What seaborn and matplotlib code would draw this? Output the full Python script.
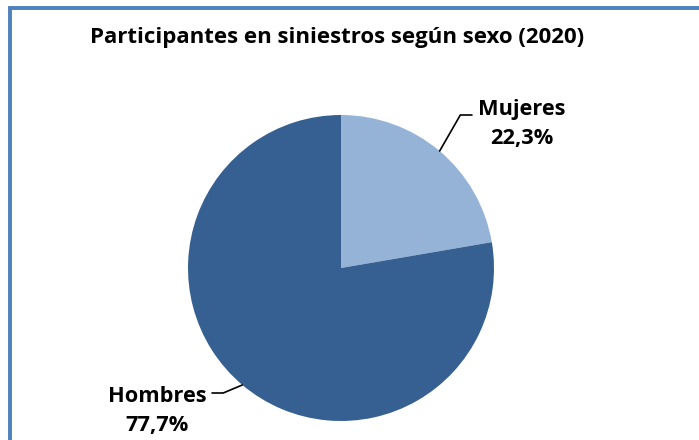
import numpy as np
import matplotlib
matplotlib.use("Agg")
import matplotlib.pyplot as plt
import seaborn as sns
from matplotlib.patches import Rectangle

# data
labels = ["Mujeres", "Hombres"]
shares = [22.3, 77.7]
colors = ["#95B3D7", "#376092"]
title = "Participantes en siniestros según sexo (2020)"

sns.set_theme(style="white")
plt.rcParams["font.family"] = ["Open Sans", "DejaVu Sans"]

W, H = 699, 440
fig = plt.figure(figsize=(W / 100, H / 100), dpi=100)

# outer frame (runs off the right and bottom edges like the original)
fig.patches.append(Rectangle((10 / W, -0.1), 1.2, (H - 8) / H + 0.1,
                             transform=fig.transFigure, fill=False,
                             edgecolor="#4F81BD", linewidth=2.8, zorder=0))

fig.text(337 / W, 1 - 37 / H, title, ha="center", va="center",
         fontsize=16, fontweight="bold", color="black")

# pie placement: center (341, 268), radius 153 px
cx, cy, r = 341, 268, 153
ax = fig.add_axes([(cx - r) / W, (H - cy - r) / H, 2 * r / W, 2 * r / H])
wedges, _ = ax.pie(shares, colors=colors, startangle=90, counterclock=False,
                   wedgeprops=dict(linewidth=0))
ax.set_xlim(-1, 1)
ax.set_ylim(-1, 1)
ax.set_aspect("equal")
ax.axis("off")

# mid angle of each wedge, for the leader lines
angles = []
start = 90
for s in shares:
    sweep = s / 100 * 360
    angles.append(np.deg2rad(start - sweep / 2))
    start -= sweep

elbows = [[(0.78, 1.0), (0.856, 1.0)], [(-0.77, -0.817), (-0.843, -0.817)]]
text_pos = [(1.183, 0.94), (-1.203, -0.935)]
for i, (lab, s) in enumerate(zip(labels, shares)):
    ex, ey = np.cos(angles[i]), np.sin(angles[i])
    pts = [(ex, ey)] + elbows[i]
    ax.plot([p[0] for p in pts], [p[1] for p in pts], color="black",
            linewidth=1.2, clip_on=False)
    tx, ty = text_pos[i]
    ax.text(tx, ty, f"{lab}\n{s:.1f}%".replace(".", ","), ha="center",
            va="center", fontsize=15.7, fontweight="bold", color="black",
            linespacing=1.5, clip_on=False)

fig.savefig("out.png", dpi=100)
